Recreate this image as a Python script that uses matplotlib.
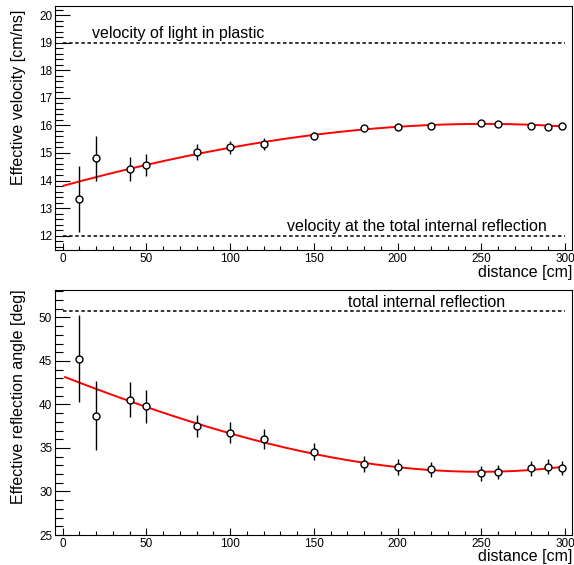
import matplotlib
matplotlib.use("Agg")
import matplotlib.pyplot as plt
import numpy as np
from matplotlib.ticker import MultipleLocator

plt.rcParams["font.family"] = ["Liberation Sans", "DejaVu Sans"]

# -------------------------- Data --------------------------

distance = [10, 20, 40, 50, 80, 100, 120, 150, 180, 200, 220, 250, 260, 280, 290, 298]

velocity = [13.34, 14.80, 14.43, 14.58, 15.04, 15.20, 15.33, 15.62, 15.90, 15.95,
            15.99, 16.08, 16.05, 15.96, 15.93, 15.98]
velocity_err = [1.20, 0.82, 0.43, 0.40, 0.28, 0.24, 0.22, 0.15, 0.13, 0.10,
                0.10, 0.10, 0.10, 0.10, 0.10, 0.10]

angle = [45.27, 38.73, 40.54, 39.77, 37.54, 36.73, 36.04, 34.58, 33.15, 32.81,
         32.54, 32.12, 32.23, 32.69, 32.85, 32.65]
angle_err = [5.0, 4.0, 2.0, 1.92, 1.30, 1.20, 1.15, 1.00, 0.95, 0.88,
             0.90, 0.86, 0.85, 0.86, 0.87, 0.80]

# fitted curves
vfit_x = [0.5, 50, 100, 120, 142, 180, 200, 220, 250, 270, 298]
vfit_y = [13.82, 14.55, 15.20, 15.38, 15.60, 15.87, 15.96, 16.01, 16.03, 16.03, 15.98]

afit_x = [1.4, 50, 80, 100, 120, 142, 180, 200, 220, 250, 260, 280, 298]
afit_y = [43.15, 39.77, 37.69, 36.62, 35.65, 34.77, 33.35, 32.77, 32.46, 32.23,
          32.23, 32.46, 32.88]

v_plastic = 19.0
v_tir = 12.0
angle_tir = 50.76

# -------------------------- Figure --------------------------

W, H = 574, 565
fig = plt.figure(figsize=(W / 100, H / 100), dpi=100)


def px_axes(left, top, right, bottom):
    return fig.add_axes([left / W, 1 - bottom / H, (right - left) / W, (bottom - top) / H])


def style_axes(ax, ymajor, yminor):
    ax.set_xlim(-4.6, 304.2)
    ax.xaxis.set_major_locator(MultipleLocator(50))
    ax.xaxis.set_minor_locator(MultipleLocator(10))
    ax.yaxis.set_major_locator(MultipleLocator(ymajor))
    ax.yaxis.set_minor_locator(MultipleLocator(yminor))
    ax.tick_params(which="both", direction="in", top=False, right=False, width=0.8,
                   labelsize=8.5, pad=2)
    ax.tick_params(axis="y", which="major", length=11)
    ax.tick_params(axis="y", which="minor", length=5.5)
    ax.tick_params(axis="x", which="major", length=5.2)
    ax.tick_params(axis="x", which="minor", length=2.6)
    for s in ax.spines.values():
        s.set_linewidth(0.8)


def draw_points(ax, y, yerr):
    ax.errorbar(distance, y, yerr=yerr, fmt="o", color="black", ecolor="black",
                elinewidth=1.0, capsize=0, markersize=5.0, markerfacecolor="white",
                markeredgecolor="black", markeredgewidth=1.0, zorder=4)


def draw_fit(ax, fx, fy):
    coef = np.polyfit(fx, fy, 3)
    xs = np.linspace(fx[0], fx[-1], 300)
    ax.plot(xs, np.polyval(coef, xs), color="red", lw=1.4, zorder=3)


dash = (0, (2.3, 1.7))

# top panel: effective velocity
ax1 = px_axes(55, 6, 572, 250)
ax1.set_ylim(11.48, 20.33)
style_axes(ax1, 1, 0.2)
ax1.hlines([v_plastic, v_tir], 0, 300, colors="black", linestyles=dash, lw=1.1)
draw_fit(ax1, vfit_x, vfit_y)
draw_points(ax1, velocity, velocity_err)
ax1.text(17.5, 19.35, "velocity of light in plastic", fontsize=11.5, va="center", ha="left")
ax1.text(133.8, 12.34, "velocity at the total internal reflection", fontsize=11.5,
         va="center", ha="left")

# bottom panel: effective reflection angle
ax2 = px_axes(55, 290, 572, 535)
ax2.set_ylim(25, 53.15)
style_axes(ax2, 5, 1)
ax2.hlines([angle_tir], 0, 300, colors="black", linestyles=dash, lw=1.1)
draw_fit(ax2, afit_x, afit_y)
draw_points(ax2, angle, angle_err)
ax2.text(170.2, 51.69, "total internal reflection", fontsize=11.5, va="center", ha="left")

# axis titles (ROOT style: aligned to the end of the axis)
fig.text(572 / W, 1 - 272 / H, "distance [cm]", fontsize=11.5, ha="right", va="center")
fig.text(572 / W, 1 - 556 / H, "distance [cm]", fontsize=11.5, ha="right", va="center")
fig.text(18.5 / W, 1 - 10 / H, "Effective velocity [cm/ns]", fontsize=11.5,
         rotation=90, ha="center", va="top")
fig.text(18.5 / W, 1 - 289 / H, "Effective reflection angle [deg]", fontsize=11.5,
         rotation=90, ha="center", va="top")

fig.savefig("out.png", dpi=100)
